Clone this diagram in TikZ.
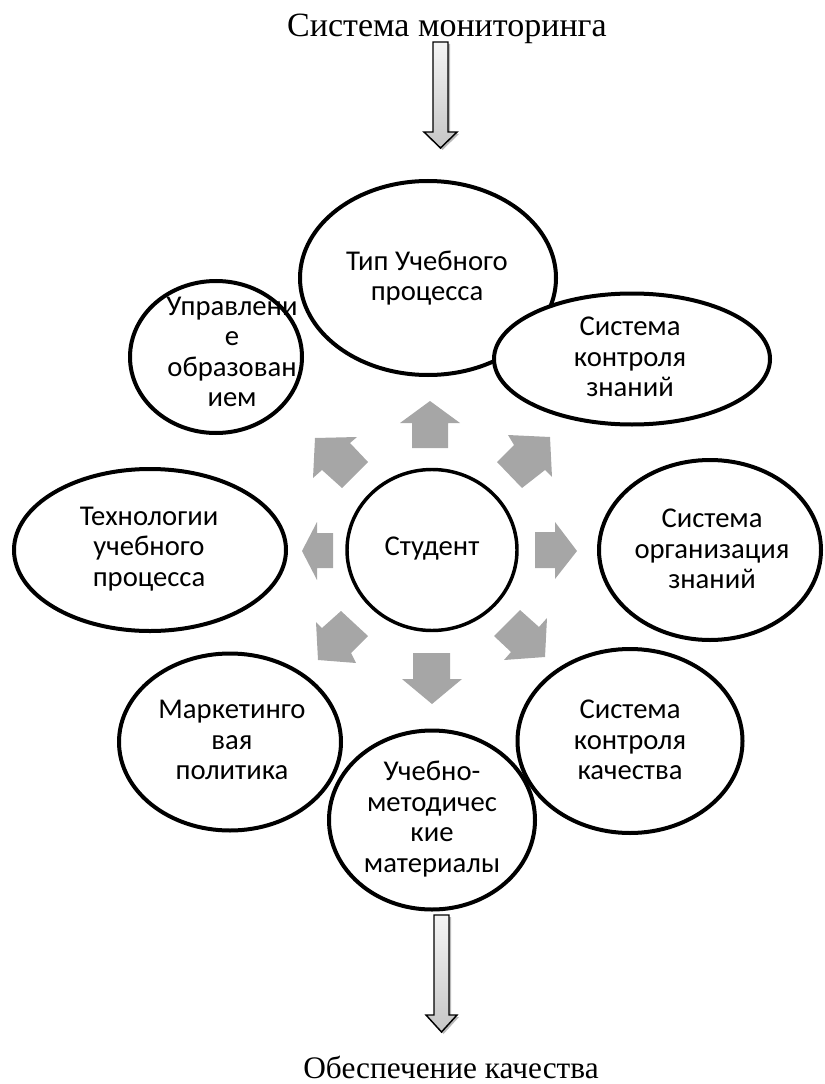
\documentclass[tikz,border=0pt]{standalone}
\usepackage{fontspec}
\setmainfont{Liberation Serif}
\newfontfamily\calib{Carlito}
\usetikzlibrary{shapes.geometric}
\definecolor{arrgray}{HTML}{A6A6A6}
\begin{document}
\begin{tikzpicture}[x=0.75pt,y=-0.75pt,
  ell/.style n args={2}{ellipse, draw=black, fill=white, line width=3pt,
    minimum width=#1*0.75pt, minimum height=#2*0.75pt, inner sep=0pt},
  lbl/.style={font=\calib\fontsize{21.5}{22.8}\selectfont, align=center, inner sep=0pt},
  ttl/.style={inner sep=0pt, anchor=base},
  garrow/.style={fill=arrgray, draw=none},
  barrow/.style={draw=black, line width=1.1pt, top color=gray!8, bottom color=gray!45},
  bshadow/.style={fill=gray!55, draw=none}]
\useasboundingbox (0,0) rectangle (824,1084);

% titles
\node[ttl, font=\fontsize{25.5}{30}\selectfont] (mon) at (447,37) {Система мониторинга};
\node[ttl, font=\fontsize{23.5}{28}\selectfont] (obes) at (451,1078) {Обеспечение качества};

% ellipses (clockwise order of drawing)
\node[ell={256}{194}] (tip) at (428,278) {};
\node[lbl] (tipT) at (427,278) {Тип Учебного\\процесса};
\node[ell={276}{131}] (szn) at (632,359) {};
\node[lbl] (sznT) at (630,357) {Система\\контроля\\знаний};
\node[ell={222}{180}] (org) at (710,550) {};
\node[lbl] (orgT) at (712,549) {Система\\организация\\знаний};
\node[ell={225}{184}] (kach) at (630,741) {};
\node[lbl] (kachT) at (630,740) {Система\\контроля\\качества};
\node[ell={206}{179}] (uch) at (432,820) {};
\node[lbl] (uchT) at (432,819) {Учебно-\\методичес\\кие\\материалы};
\node[ell={222}{177}] (mark) at (230,742) {};
\node[lbl] (markT) at (232,740) {Маркетинго\\вая\\политика};
\node[ell={272}{162}] (tech) at (150,550) {};
\node[lbl] (techT) at (149,549) {Технологии\\учебного\\процесса};
\node[ell={172}{152}] (upr) at (216,357) {};
\node[lbl] (uprT) at (232,352) {Управлени\\е\\образован\\ием};

% centre
\node[ell={170}{161}, line width=2.6pt] (stud) at (432,550) {};
\node[lbl] (studT) at (432,549) {Студент};

% grey radial arrows
\fill[garrow] (412,448) -- (412,423) -- (400,423) -- (430,401) -- (460,423) -- (448,423) -- (448,448) -- cycle;
\fill[garrow] (413,653) -- (450,653) -- (450,679) -- (462,679) -- (432,704) -- (402,679) -- (413,679) -- cycle;
\fill[garrow] (535,532) -- (555,532) -- (555,522) -- (577,551) -- (555,579) -- (555,568) -- (535,568) -- cycle;
\fill[garrow] (333,533) -- (317,533) -- (317,522) -- (302,551) -- (317,580) -- (317,568) -- (333,568) -- cycle;
\fill[garrow] (315,438) -- (357,437) -- (350,443) -- (368,462) -- (342,488) -- (322,470) -- (313,478) -- cycle;
\fill[garrow] (508,435) -- (550,437) -- (552,477) -- (545,470) -- (522,488) -- (497,462) -- (514,445) -- cycle;
\fill[garrow] (356,663) -- (318,660) -- (316,622) -- (322,628) -- (341,611) -- (368,636) -- (351,653) -- cycle;
\fill[garrow] (520,610) -- (539,627) -- (547,618) -- (545,657) -- (504,660) -- (511,652) -- (494,636) -- cycle;

% block arrows (top and bottom)
\fill[bshadow] (435,44) -- (450,44) -- (450,134) -- (459,134) -- (442.5,150) -- (427,134) -- (435,134) -- cycle;
\draw[barrow] (433,42) -- (448,42) -- (448,132) -- (457,132) -- (440.5,148) -- (424,132) -- (433,132) -- cycle;
\fill[bshadow] (436,917) -- (451,917) -- (451,1017) -- (459,1017) -- (443.5,1034) -- (428,1017) -- (436,1017) -- cycle;
\draw[barrow] (434,915) -- (449,915) -- (449,1015) -- (457,1015) -- (441.5,1032) -- (426,1015) -- (434,1015) -- cycle;
\end{tikzpicture}
\end{document}
